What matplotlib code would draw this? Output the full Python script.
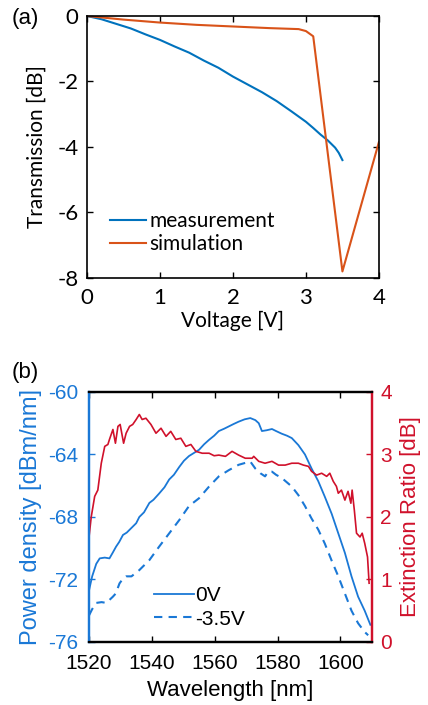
import matplotlib.pyplot as plt

plt.rcParams['axes.unicode_minus'] = False

# (a) transmission vs voltage
meas_v = [0.0, 0.2, 0.4, 0.6, 0.8, 1.0, 1.2, 1.4, 1.6, 1.8, 2.0, 2.2, 2.4, 2.6, 2.8, 3.0, 3.1, 3.2, 3.3, 3.4, 3.45, 3.5]
meas_t = [0.0, -0.1, -0.24, -0.38, -0.56, -0.73, -0.93, -1.12, -1.36, -1.58, -1.85, -2.09, -2.33, -2.6, -2.91, -3.23, -3.42, -3.62, -3.8, -4.02, -4.18, -4.4]
sim_v = [0.0, 0.5, 1.0, 1.5, 2.0, 2.5, 2.9, 3.0, 3.1, 3.5, 4.0]
sim_t = [0.0, -0.11, -0.2, -0.27, -0.32, -0.37, -0.4, -0.46, -0.62, -7.8, -3.85]

# (b) spectra
wl_0v = [1520.0, 1521.0, 1522.3, 1523.4, 1525.0, 1526.5, 1527.5, 1528.6, 1529.6, 1530.8, 1532.0, 1533.0,
         1534.0, 1535.0, 1536.0, 1537.5, 1539.2, 1540.5, 1542.3, 1544.0, 1545.5, 1547.0, 1548.7, 1550.2,
         1551.8, 1553.4, 1555.0, 1556.6, 1558.2, 1559.8, 1561.3, 1563.0, 1564.5, 1566.0, 1567.6, 1569.5,
         1571.3, 1572.9, 1574.0, 1575.0, 1576.5, 1578.2, 1579.5, 1581.3, 1583.0, 1584.5, 1586.6, 1588.7,
         1590.8, 1592.9, 1595.0, 1597.2, 1599.3, 1601.4, 1603.5, 1605.6, 1607.7, 1609.5]
pd_0v = [-72.7, -71.8, -71.0, -70.65, -70.6, -70.65, -70.3, -69.9, -69.6, -69.15, -69.0, -68.8,
         -68.6, -68.4, -68.0, -67.7, -67.1, -66.9, -66.5, -66.1, -65.6, -65.3, -64.8, -64.4,
         -64.1, -63.9, -63.7, -63.35, -63.06, -62.8, -62.5, -62.35, -62.2, -62.05, -61.9, -61.75,
         -61.67, -61.8, -62.0, -62.5, -62.45, -62.37, -62.5, -62.67, -62.8, -62.95, -63.4, -64.0,
         -64.9, -65.7, -66.7, -67.8, -69.05, -70.3, -71.8, -73.1, -74.0, -74.9]
wl_35v = [1520.0, 1521.0, 1522.3, 1524.0, 1525.5, 1527.6, 1528.5, 1529.7, 1530.8, 1531.8, 1533.5, 1536.0,
          1539.2, 1542.3, 1545.5, 1548.7, 1551.8, 1555.0, 1558.2, 1561.3, 1564.5, 1567.6, 1569.5, 1571.3,
          1572.9, 1574.5, 1576.0, 1577.0, 1578.2, 1579.5, 1581.3, 1584.5, 1586.6, 1588.7, 1590.8, 1592.9,
          1595.0, 1597.2, 1599.3, 1601.4, 1603.5, 1605.6, 1607.7, 1608.8]
pd_35v = [-74.3, -73.9, -73.5, -73.45, -73.5, -73.1, -72.9, -72.25, -71.95, -71.8, -71.8, -71.4,
          -70.76, -69.9, -69.05, -68.2, -67.3, -66.8, -66.05, -65.4, -65.0, -64.66, -64.55, -64.45,
          -64.9, -65.2, -65.4, -65.1, -65.1, -65.3, -65.5, -66.05, -66.6, -67.3, -68.1, -68.8,
          -69.7, -70.8, -71.8, -72.9, -74.0, -74.8, -75.36, -75.57]
wl_er = [1520.0, 1520.7, 1521.8, 1522.8, 1523.9, 1525.0, 1526.0, 1526.5, 1527.6, 1528.4, 1529.2, 1529.9,
         1531.0, 1531.8, 1532.9, 1533.9, 1535.0, 1536.0, 1536.9, 1538.1, 1539.7, 1541.3, 1542.9, 1544.5,
         1546.0, 1547.6, 1549.2, 1550.8, 1552.4, 1554.0, 1556.0, 1558.2, 1559.8, 1561.3, 1563.4, 1565.5,
         1567.6, 1569.7, 1571.9, 1572.4, 1574.0, 1576.0, 1578.2, 1580.3, 1582.4, 1584.5, 1586.6, 1588.2,
         1589.8, 1590.8, 1592.4, 1594.0, 1595.6, 1596.6, 1597.7, 1598.7, 1599.3, 1600.3, 1601.4, 1602.4,
         1603.3, 1603.7, 1604.4, 1605.1, 1606.2, 1606.9, 1607.7, 1608.6, 1609.1]
er = [1.68, 2.0, 2.33, 2.43, 2.86, 3.13, 3.16, 3.24, 3.40, 3.18, 3.45, 3.48,
      3.18, 3.34, 3.45, 3.48, 3.56, 3.64, 3.56, 3.58, 3.48, 3.34, 3.42, 3.29,
      3.37, 3.24, 3.26, 3.13, 3.16, 3.05, 3.02, 3.02, 2.98, 2.99, 2.97, 3.05,
      2.99, 2.94, 2.94, 2.97, 2.89, 2.86, 2.89, 2.83, 2.83, 2.86, 2.86, 2.83,
      2.81, 2.73, 2.67, 2.70, 2.65, 2.70, 2.57, 2.49, 2.38, 2.43, 2.27, 2.41,
      2.22, 2.43, 2.11, 1.74, 1.68, 1.74, 1.58, 1.36, 0.94]

c_meas = '#0072BD'
c_sim = '#D95319'
c_blue = '#1a78d6'
c_red = '#d0112b'

fig = plt.figure(figsize=(4.28, 7.05), dpi=100)

# ---- panel (a)
fa = 'Lato'
ax1 = fig.add_axes([0.2033, 0.6057, 0.682, 0.3716])
ax1.plot(meas_v, meas_t, color=c_meas, lw=1.5, label='measurement')
ax1.plot(sim_v, sim_t, color=c_sim, lw=1.5, label='simulation')
ax1.set_xlim(0, 4)
ax1.set_ylim(-8, 0)
ax1.set_xticks([0, 1, 2, 3, 4])
ax1.set_yticks([-8, -6, -4, -2, 0])
ax1.tick_params(direction='in', top=True, right=True, labelsize=16, length=4, width=1)
ax1.tick_params(axis='x', pad=7)
ax1.tick_params(axis='y', pad=6)
for t in ax1.get_xticklabels() + ax1.get_yticklabels():
    t.set_family(fa)
for s in ax1.spines.values():
    s.set_linewidth(1.2)
ax1.set_xlabel('Voltage [V]', fontsize=15, family=fa, labelpad=2)
ax1.set_ylabel('Transmission [dB]', fontsize=15, family=fa, labelpad=8)
ax1.legend(loc='lower left', bbox_to_anchor=(0.05, 0.06), frameon=False,
           prop={'family': fa, 'size': 15}, handlelength=1.75, handletextpad=0.15,
           labelspacing=0.15, borderaxespad=0)
fig.text(0.026, 0.974, '(a)', fontsize=16, family='Liberation Sans', va='center', ha='left')

# ---- panel (b)
fb = 'Liberation Sans'
ax2 = fig.add_axes([0.208, 0.0894, 0.661, 0.3546])
ax2.plot(wl_0v, pd_0v, color=c_blue, lw=1.3, label='0V')
ax2.plot(wl_35v, pd_35v, color=c_blue, lw=1.5, ls=(0, (4, 3)), label='-3.5V')
ax2.set_xlim(1520, 1610)
ax2.set_ylim(-76, -60)
ax2.set_xticks([1520, 1540, 1560, 1580, 1600])
ax2.set_yticks([-76, -72, -68, -64, -60])
ax2.tick_params(axis='x', direction='in', top=True, labelsize=15, length=4, width=1, pad=9)
ax2.tick_params(axis='y', direction='in', colors=c_blue, labelsize=15, length=4, width=1, pad=8)
for t in ax2.get_xticklabels() + ax2.get_yticklabels():
    t.set_family(fb)
ax2.set_xlabel('Wavelength [nm]', fontsize=16, family=fb, labelpad=5)
ax2.set_ylabel('Power density [dBm/nm]', fontsize=17, family=fb, color=c_blue, labelpad=4)
ax2.legend(loc='lower left', bbox_to_anchor=(0.2, 0.02), frameon=False,
           prop={'family': fb, 'size': 15}, handlelength=1.9, handletextpad=0.1,
           labelspacing=0.2, borderaxespad=0)

ax3 = ax2.twinx()
ax3.plot(wl_er, er, color=c_red, lw=1.2)
ax3.set_ylim(0, 4)
ax3.set_yticks([0, 1, 2, 3, 4])
ax3.tick_params(axis='y', direction='in', colors=c_red, labelsize=15, length=4, width=1, pad=6)
for t in ax3.get_yticklabels():
    t.set_family(fb)
ax3.set_ylabel('Extinction Ratio [dB]', fontsize=16, family=fb, color=c_red, labelpad=6)
ax3.spines['left'].set_color(c_blue)
ax3.spines['right'].set_color(c_red)
ax2.spines['left'].set_color(c_blue)
ax2.spines['right'].set_color(c_red)
for a in (ax2, ax3):
    for s in a.spines.values():
        s.set_linewidth(1.6)
fig.text(0.026, 0.472, '(b)', fontsize=16, family=fb, va='center', ha='left')

fig.savefig('out.png', dpi=100)
